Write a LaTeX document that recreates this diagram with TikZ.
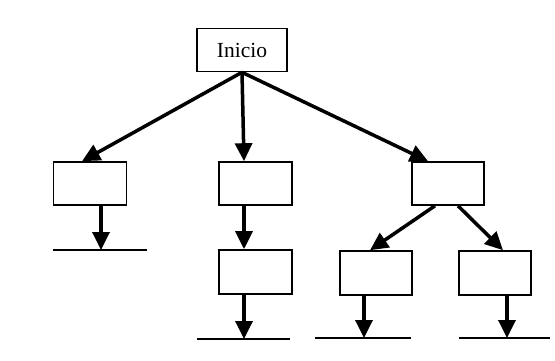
\documentclass[tikz,border=0pt]{standalone}
\usepackage{fontspec}
\setmainfont{Liberation Serif}
\usetikzlibrary{arrows.meta}
\begin{document}
\begin{tikzpicture}[x=1pt,y=-1pt,
  box/.style={draw,line width=1.6pt,minimum width=73pt,minimum height=43pt,inner sep=0pt},
  arr/.style={line width=3.5pt,-{Triangle[width=17pt,length=18pt]}},
  base/.style={line width=1.6pt}]
\useasboundingbox (0,0) rectangle (555,361);
\node[box,minimum width=90pt] (ini) at (242,50) {\fontsize{21.5}{23}\selectfont Inicio};
\node[box] (b1) at (90,183.5) {};
\node[box] (b2) at (255.5,183.5) {};
\node[box,minimum height=44pt] (b3) at (255.5,272) {};
\node[box,minimum width=72pt] (b4) at (448,183.5) {};
\node[box,minimum width=72pt,minimum height=44pt] (b5) at (376,273) {};
\node[box,minimum width=72pt,minimum height=44pt] (b6) at (495,273) {};
% base lines
\coordinate (l1a) at (53,250); \coordinate (l1b) at (147,250);
\coordinate (l2a) at (197,339); \coordinate (l2b) at (290,339);
\coordinate (l3a) at (315,338); \coordinate (l3b) at (411,338);
\coordinate (l4a) at (459,338); \coordinate (l4b) at (550,338);
\draw[base] (l1a) -- (l1b);
\draw[base] (l2a) -- (l2b);
\draw[base] (l3a) -- (l3b);
\draw[base] (l4a) -- (l4b);
% arrows
\draw[arr] (ini.south) -- ([xshift=-8pt]b1.north);
\draw[arr] (ini.south) -- ([xshift=-11.5pt]b2.north);
\draw[arr] (ini.south) -- ([xshift=-20pt]b4.north);
\draw[arr] ([xshift=11pt]b1.south) -- (l1a -| {101,0});
\draw[arr] ([xshift=-11.5pt]b2.south) -- ([xshift=-11.5pt]b3.north);
\draw[arr] ([xshift=-11.5pt]b3.south) -- (l2a -| {244,0});
\draw[arr] ([xshift=-13pt]b4.south) -- ([xshift=-6pt]b5.north);
\draw[arr] ([xshift=10pt]b4.south) -- ([xshift=8pt]b6.north);
\draw[arr] ([xshift=-12pt]b5.south) -- (l3a -| {364,0});
\draw[arr] ([xshift=12pt]b6.south) -- (l4a -| {507,0});
\end{tikzpicture}
\end{document}
